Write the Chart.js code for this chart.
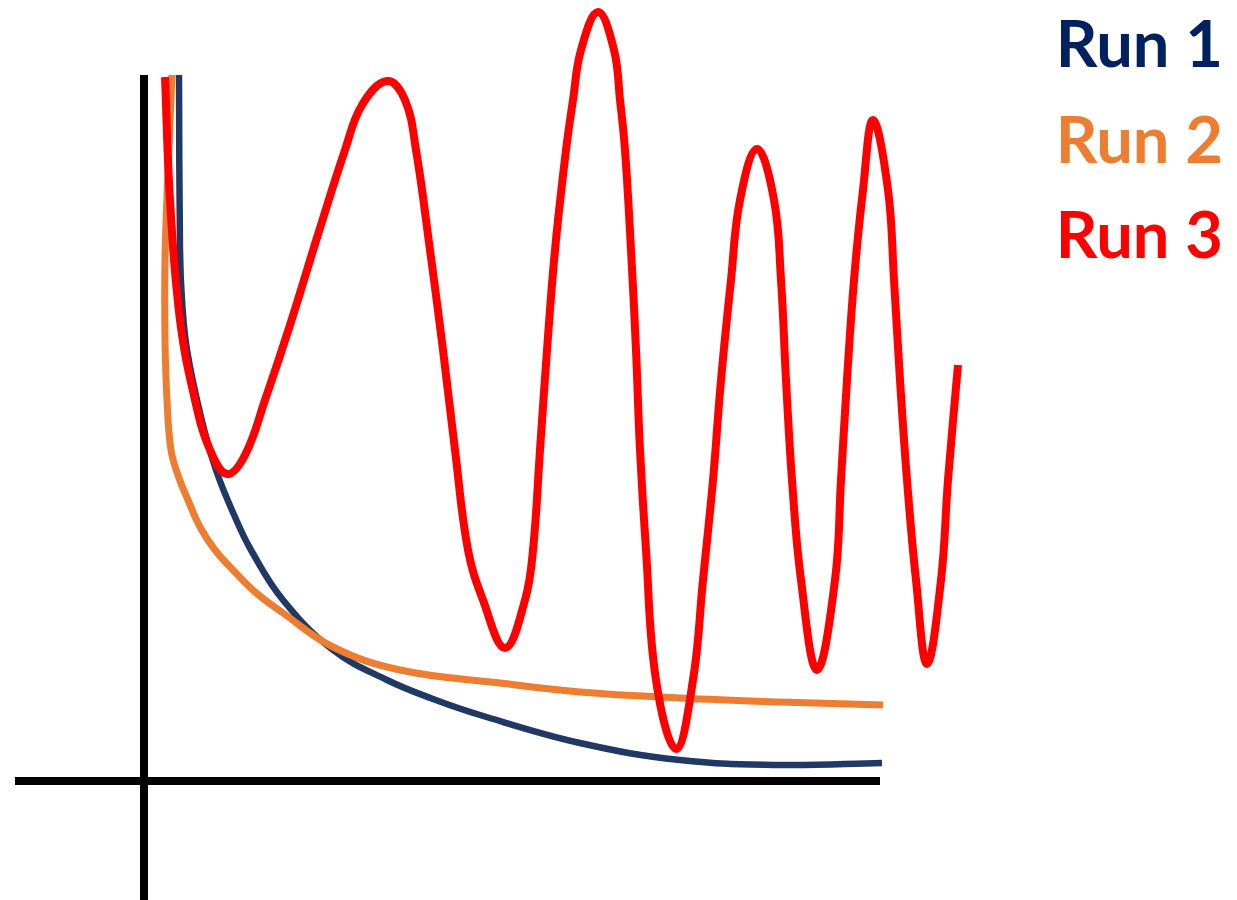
<!DOCTYPE html>
<html lang="en">
<head>
  <meta charset="UTF-8" />
  <title>Runs</title>
  <script src="https://cdn.jsdelivr.net/npm/chart.js@4"></script>
  <style>
    html, body { margin: 0; padding: 0; background: #fff; }
    .wrap { width: 1237px; height: 900px; position: relative; }
  </style>
</head>
<body>
  <div class="wrap"><canvas id="grafico"></canvas></div>
  <script>
    // datos (unidades arbitrarias, origen en el cruce de ejes)
    const runLabels = ["Run 1", "Run 2", "Run 3"];

    const run1X = [3.5, 3.6, 3.8, 4.3, 5.7, 7.2, 9.1, 10.7, 13.9, 18.9, 24.3, 28.9, 33.6, 43.6, 53.6, 63.6, 73.8];
    const run1Y = [70.6, 53.1, 48.1, 43.1, 36.4, 31.1, 26.4, 23.1, 18.1, 13.1, 10.1, 8.2, 6.6, 3.8, 2.1, 1.6, 1.8];

    const run2X = [2.8, 2.4, 2.1, 2.1, 2.3, 2.7, 3.5, 4.4, 5.6, 7.1, 8.9, 11.1, 13.9, 18.9, 25.6, 35.6, 43.6, 53.6, 63.6, 73.9];
    const run2Y = [70.6, 61.1, 52.1, 44.1, 38.1, 33.1, 30.3, 28.1, 25.4, 23.1, 21.1, 18.9, 16.8, 13.4, 11.1, 9.8, 8.9, 8.3, 7.9, 7.6];

    const run3X = [2.1, 2.6, 3.6, 5.1, 6.6, 8.3,
                   10.1, 12.1, 14.6, 17.6, 20.1, 21.8, 24.3,
                   26.1, 27.2, 28.6, 29.9, 31.1, 32.4, 33.9, 36.1,
                   38.1, 38.9, 39.6, 40.3, 41.1, 42.2, 42.9, 43.7, 45.4,
                   47.0, 47.6, 48.1, 48.7, 49.2, 49.6, 50.2, 51.2, 53.2,
                   54.9, 55.9, 56.9, 57.7, 58.7, 59.6, 61.3,
                   63.0, 63.7, 64.2, 64.8, 65.7, 67.3,
                   69.1, 69.7, 70.3, 71.0, 71.9, 72.9,
                   74.4, 75.0, 75.6, 76.3, 77.2, 78.3,
                   79.7, 80.4, 81.4];
    const run3Y = [70.4, 58.1, 46.1, 38.1, 33.1, 30.7,
                   32.6, 38.1, 45.6, 55.3, 63.1, 67.6, 70.0,
                   68.1, 63.1, 53.1, 43.1, 33.1, 23.1, 18.1, 13.3,
                   18.1, 23.1, 33.1, 43.1, 53.1, 63.1, 68.1, 73.1, 76.9,
                   73.1, 68.1, 63.1, 53.1, 43.1, 33.1, 23.1, 10.1, 3.2,
                   10.1, 20.1, 30.1, 40.1, 50.1, 58.1, 63.2,
                   58.1, 50.1, 40.1, 30.1, 20.1, 11.1,
                   20.1, 30.1, 40.1, 50.1, 59.1, 66.1,
                   59.1, 50.1, 40.1, 30.1, 20.1, 11.7,
                   20.1, 30.1, 41.6];

    // ejes dibujados como lineas
    const ejeHorizX = [-12.9, 73.6];
    const ejeHorizY = [0, 0];
    const ejeVertX = [0, 0];
    const ejeVertY = [-11.9, 70.6];

    const lineColors = ["#203864", "#ED7D31", "#FF0000"];
    const labelColors = ["#002060", "#ED7D31", "#FF0000"];

    const pares = (xs, ys) => xs.map((x, i) => ({ x: x, y: ys[i] }));

    const leyenda = {
      id: "leyenda",
      afterDraw(chart) {
        const ctx = chart.ctx;
        ctx.save();
        ctx.font = "bold 65px Lato";
        ctx.textAlign = "right";
        ctx.textBaseline = "alphabetic";
        runLabels.forEach((l, i) => {
          ctx.fillStyle = labelColors[i];
          ctx.fillText(l, chart.width - 14, 67 + i * 95.5);
        });
        ctx.restore();
      }
    };

    const linea = (label, data, color, width, order) => ({
      label: label,
      data: data,
      borderColor: color,
      borderWidth: width,
      pointRadius: 0,
      fill: false,
      tension: 0.4,
      borderJoinStyle: "round",
      order: order
    });

    new Chart(document.getElementById("grafico"), {
      type: "line",
      data: {
        datasets: [
          linea(runLabels[0], pares(run1X, run1Y), lineColors[0], 6.5, 2),
          linea(runLabels[1], pares(run2X, run2Y), lineColors[1], 7, 1),
          linea(runLabels[2], pares(run3X, run3Y), lineColors[2], 8, 0),
          { label: "ejeX", data: pares(ejeHorizX, ejeHorizY), borderColor: "#000", borderWidth: 8, pointRadius: 0, order: 3 },
          { label: "ejeY", data: pares(ejeVertX, ejeVertY), borderColor: "#000", borderWidth: 8, pointRadius: 0, order: 3 }
        ]
      },
      options: {
        responsive: true,
        maintainAspectRatio: false,
        animation: false,
        layout: { padding: 0 },
        plugins: { legend: { display: false }, tooltip: { enabled: false } },
        scales: {
          x: { type: "linear", min: -14.4, max: 109.3, display: false },
          y: { type: "linear", min: -11.9, max: 78.1, display: false }
        }
      },
      plugins: [leyenda]
    });
  </script>
</body>
</html>
